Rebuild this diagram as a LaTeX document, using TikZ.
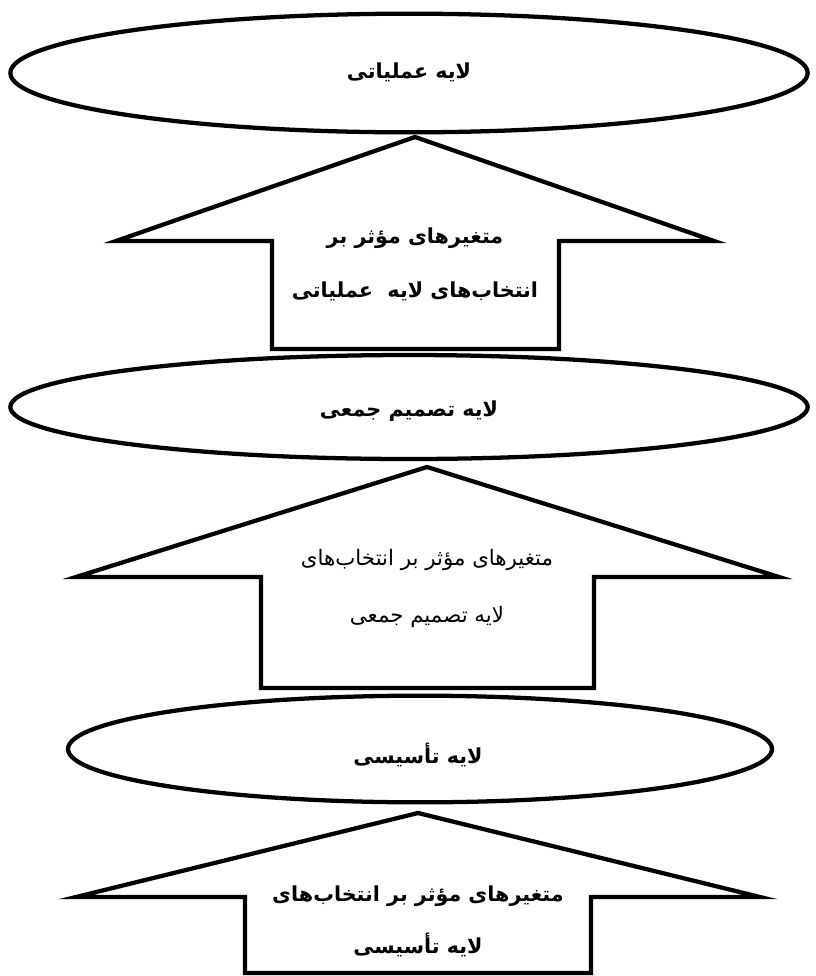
\documentclass[tikz,border=0pt]{standalone}
\usepackage{fontspec}
\usetikzlibrary{shapes.geometric}
\TeXXeTstate=1
\newfontfamily\arabicfont[Script=Arabic]{DejaVu Sans}
\tikzset{
  layer/.style={ellipse, draw=black, line width=3.2pt, inner sep=0pt, fill=white},
  bigarrow/.style={draw=black, line width=3.2pt, line join=miter, fill=white},
  lbl/.style={inner sep=0pt, font=\arabicfont\fontsize{15.5}{18}\selectfont\bfseries},
  lblr/.style={inner sep=0pt, font=\arabicfont\fontsize{16}{19}\selectfont}
}
\begin{document}
\begin{tikzpicture}[x=0.75pt,y=-0.75pt]
\useasboundingbox (0,0) rectangle (816,976);
% arrows
\draw[bigarrow] (415,137) -- (714,241) -- (559,241) -- (559,349) -- (272,349) -- (272,241) -- (116,241) -- cycle;
\draw[bigarrow] (427,467) -- (779,577) -- (594,577) -- (594,688) -- (261,688) -- (261,577) -- (76,577) -- cycle;
\draw[bigarrow] (418,813) -- (760,897) -- (591,897) -- (591,973) -- (245,973) -- (245,897) -- (76,897) -- cycle;
% ellipses
\node[layer, minimum width=598pt, minimum height=89pt] (e1) at (409,73) {};
\node[layer, minimum width=598pt, minimum height=78pt] (e2) at (409,407) {};
\node[layer, minimum width=528pt, minimum height=80pt] (e3) at (420,749) {};
% labels
\node[lbl] (t1) at (409,72) {\beginR لایه عملیاتی\endR};
\node[lbl] (t2) at (409,411) {\beginR لایه تصمیم جمعی\endR};
\node[lbl] (t3) at (418,755) {\beginR لایه تأسیسی\endR};
\node[lbl] (a1l1) at (415,238) {\beginR متغیرهای مؤثر بر\endR};
\node[lbl] (a1l2) at (415,291) {\beginR انتخاب‌های لایه\ \ عملیاتی\endR};
\node[lblr] (a2l1) at (427,560) {\beginR متغیرهای مؤثر بر انتخاب‌های\endR};
\node[lblr] (a2l2) at (427,617) {\beginR لایه تصمیم جمعی\endR};
\node[lbl] (a3l1) at (418,896) {\beginR متغیرهای مؤثر بر انتخاب‌های\endR};
\node[lbl] (a3l2) at (418,945) {\beginR لایه تأسیسی\endR};
\end{tikzpicture}
\end{document}
